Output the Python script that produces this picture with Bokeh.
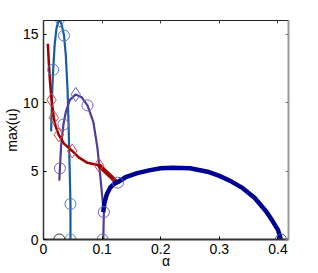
from bokeh.plotting import figure
from bokeh.models import LinearAxis, Range1d, FixedTicker
from bokeh.embed import file_html
from bokeh.resources import INLINE

# ---- data ----
blue_a = [0.013, 0.015, 0.0165, 0.019, 0.022, 0.025, 0.028, 0.031, 0.035, 0.038, 0.041, 0.043, 0.045, 0.046, 0.046]
blue_u = [7.9, 11.0, 12.4, 14.2, 15.4, 15.9, 16.0, 15.7, 14.9, 13.5, 11.0, 8.0, 4.5, 2.6, 0.0]
blue_circ_a = [0.0165, 0.035, 0.046, 0.046]
blue_circ_u = [12.4, 14.9, 2.6, 0.0]
blue_diam_a = [0.028]
blue_diam_u = [16.0]

pur_a = [0.027, 0.028, 0.030, 0.034, 0.038, 0.045, 0.055, 0.065, 0.075, 0.085, 0.092, 0.097, 0.100, 0.103, 0.102]
pur_u = [4.3, 5.2, 6.8, 8.4, 9.3, 10.2, 10.6, 10.4, 9.8, 8.6, 6.7, 4.6, 3.2, 2.0, 0.0]
pur_circ_a = [0.028, 0.034, 0.075, 0.103, 0.101, 0.127]
pur_circ_u = [5.2, 8.4, 9.8, 2.0, 0.0, 4.15]
pur_diam_a = [0.055]
pur_diam_u = [10.6]

red_a = [0.0074, 0.009, 0.011, 0.0137, 0.0176, 0.0205, 0.026, 0.035, 0.049, 0.06, 0.075, 0.0946]
red_u = [14.3, 13.0, 11.6, 10.2, 8.9, 8.3, 7.64, 7.0, 6.47, 6.0, 5.6, 5.43]
red_thick_a = [0.0946, 0.105, 0.115, 0.125]
red_thick_u = [5.43, 5.0, 4.6, 4.16]
red_diam_a = [0.0137, 0.0176, 0.026, 0.049, 0.0946]
red_diam_u = [10.2, 8.9, 7.64, 6.47, 5.43]

navy_a = [0.102, 0.104, 0.108, 0.114, 0.12, 0.127, 0.14, 0.16, 0.18, 0.2, 0.22, 0.25, 0.28, 0.3, 0.32, 0.34, 0.36, 0.38, 0.39, 0.40, 0.405]
navy_u = [2.0, 2.7, 3.3, 3.8, 4.05, 4.2, 4.55, 4.85, 5.05, 5.2, 5.25, 5.2, 4.95, 4.65, 4.25, 3.75, 3.05, 2.05, 1.4, 0.7, 0.0]
navy_circ_a = [0.405]
navy_circ_u = [0.0]

black_circ_a = [0.027]
black_circ_u = [0.0]

x_ticks = [0, 0.1, 0.2, 0.3, 0.4]
y_ticks = [0, 5, 10, 15]

FONT = "Liberation Sans"

p = figure(frame_width=245, frame_height=219, output_backend="svg", toolbar_location=None,
           x_range=Range1d(0, 0.418), y_range=Range1d(0, 16),
           min_border_left=35, min_border_right=10, min_border_top=20, min_border_bottom=26)
p.grid.visible = False
p.outline_line_color = None
p.background_fill_color = "white"

# curves
p.line(blue_a, blue_u, line_color="#1a5c9e", line_width=2.2)
p.line(pur_a, pur_u, line_color="#4a3f9c", line_width=2.2)
p.line(red_a, red_u, line_color="#a00000", line_width=2.5)
p.line(red_thick_a, red_thick_u, line_color="#a00000", line_width=4.5)
p.line(navy_a, navy_u, line_color="#000090", line_width=4.5)

# markers
p.scatter(blue_circ_a, blue_circ_u, marker="circle", size=11, fill_color=None, line_color="#4a80c4", line_width=1)
p.scatter(blue_diam_a, blue_diam_u, marker="diamond", size=14, fill_color=None, line_color="#4a80c4", line_width=1)
p.scatter(pur_circ_a, pur_circ_u, marker="circle", size=11, fill_color=None, line_color="#6b63b8", line_width=1)
p.scatter(pur_diam_a, pur_diam_u, marker="diamond", size=14, fill_color=None, line_color="#6b63b8", line_width=1)
p.scatter(red_diam_a, red_diam_u, marker="diamond", size=14, fill_color=None, line_color="#d0484a", line_width=1)
p.scatter(navy_circ_a, navy_circ_u, marker="circle", size=11, fill_color=None, line_color="#3a50d0", line_width=1)
p.scatter(black_circ_a, black_circ_u, marker="circle", size=11, fill_color=None, line_color="#333333", line_width=1)

# axes
for ax in (p.xaxis[0], p.yaxis[0]):
    ax.major_tick_in = 3
    ax.major_tick_out = 0
    ax.minor_tick_in = 0
    ax.minor_tick_out = 0
    ax.major_label_text_font = FONT
    ax.major_label_text_font_size = "14px"
    ax.major_label_text_color = "black"
    ax.axis_label_text_font = FONT
    ax.axis_label_text_font_size = "14px"
    ax.axis_label_text_font_style = "normal"
    ax.axis_label_text_color = "black"

p.xaxis[0].ticker = FixedTicker(ticks=x_ticks)
p.yaxis[0].ticker = FixedTicker(ticks=y_ticks)
p.xaxis[0].axis_label = "α"
p.yaxis[0].axis_label = "max(u)"
p.xaxis[0].axis_line_width = 2
p.xaxis[0].axis_line_color = "#333333"
p.yaxis[0].axis_line_width = 1.5
p.yaxis[0].axis_line_color = "#333333"
p.xaxis[0].major_label_standoff = 4
p.xaxis[0].axis_label_standoff = -4
p.yaxis[0].major_label_standoff = 5
p.yaxis[0].axis_label_standoff = 0

top = LinearAxis(ticker=FixedTicker(ticks=x_ticks), major_label_text_font_size="1px",
                 major_label_text_color=None,
                 major_tick_in=3, major_tick_out=0, minor_tick_in=0, minor_tick_out=0,
                 axis_line_color="#222222", axis_line_width=1.2, major_tick_line_color="#444444")
right = LinearAxis(ticker=FixedTicker(ticks=y_ticks), major_label_text_font_size="1px",
                   major_label_text_color=None,
                   major_tick_in=3, major_tick_out=0, minor_tick_in=0, minor_tick_out=0,
                   axis_line_color="#999999", axis_line_width=2, major_tick_line_color="#777777")
p.add_layout(top, "above")
p.add_layout(right, "right")

open("out.html", "w").write(file_html(p, INLINE))
